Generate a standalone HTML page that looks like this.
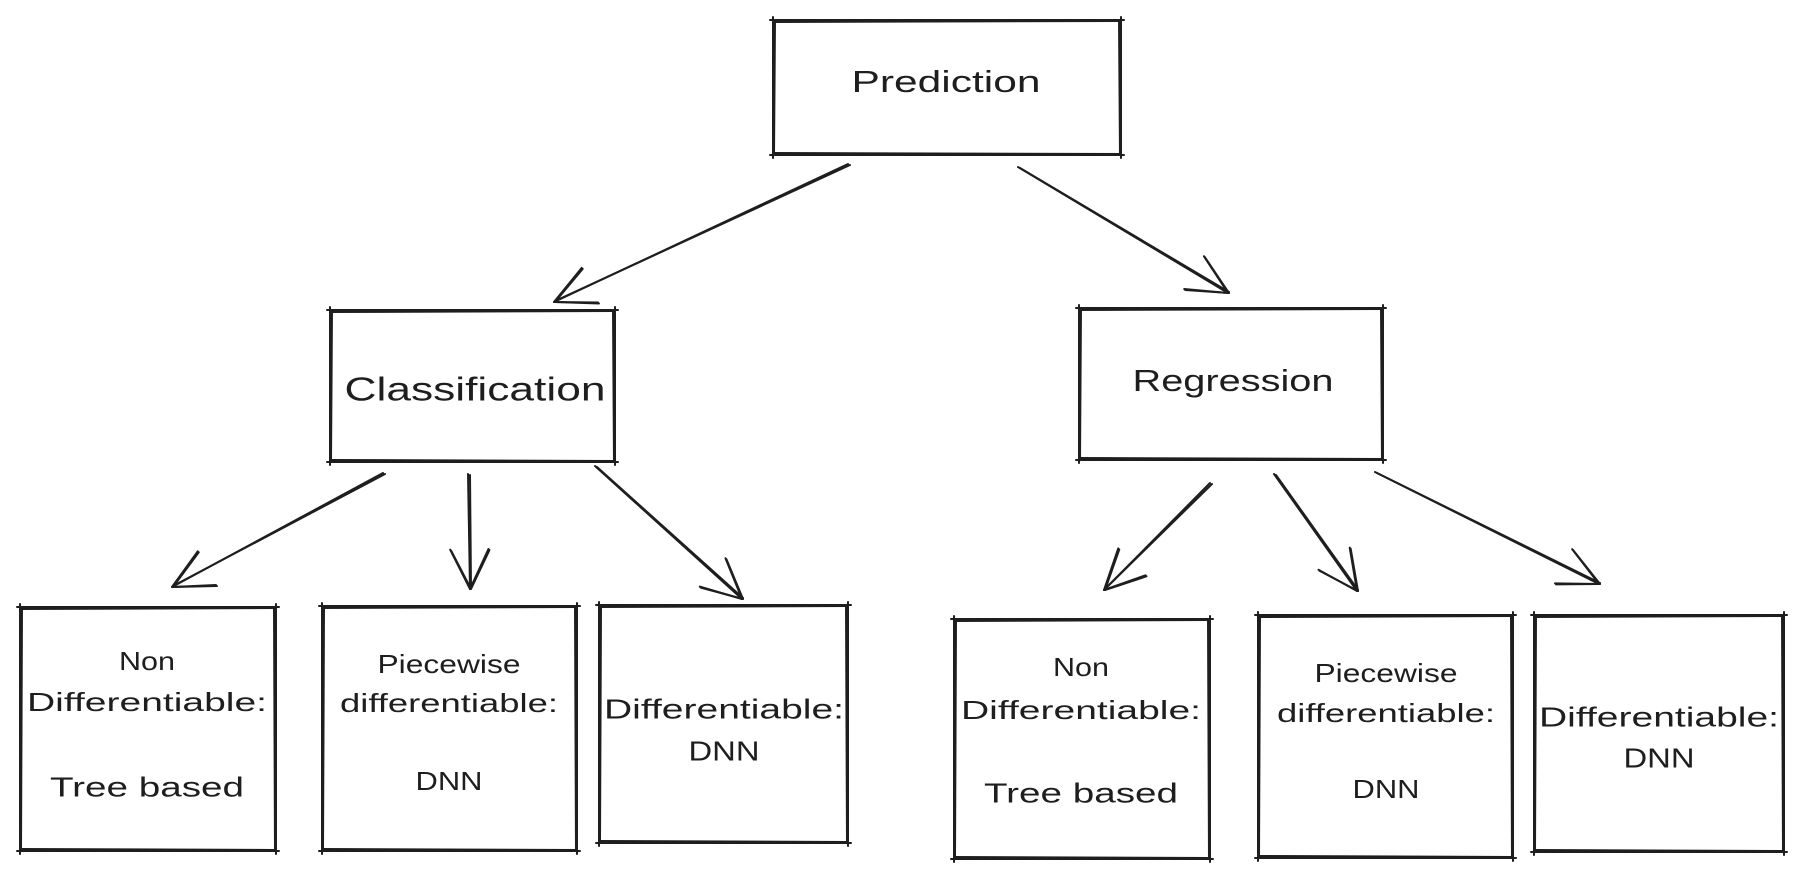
<!DOCTYPE html>
<html><head><meta charset="utf-8"><style>
html,body{margin:0;padding:0;background:#fff}
svg{display:block}
text{font-family:"Liberation Sans","DejaVu Sans",sans-serif;fill:#1e1e1e;text-anchor:middle;dominant-baseline:middle}
</style></head><body>
<svg id="s" width="1803" height="879" viewBox="0 0 1803 879" xmlns="http://www.w3.org/2000/svg">
<g id="g" stroke="#1e1e1e" stroke-width="2" fill="none" stroke-linecap="round"></g>
<text x="946" y="84" font-size="31" textLength="189" lengthAdjust="spacingAndGlyphs">Prediction</text>
<text x="475" y="392" font-size="33" textLength="261" lengthAdjust="spacingAndGlyphs">Classification</text>
<text x="1233" y="383" font-size="31" textLength="201" lengthAdjust="spacingAndGlyphs">Regression</text>

<text x="147" y="663" font-size="26" textLength="56" lengthAdjust="spacingAndGlyphs">Non</text>
<text x="147" y="704" font-size="26" textLength="240" lengthAdjust="spacingAndGlyphs">Differentiable:</text>
<text x="147" y="789" font-size="28" textLength="194" lengthAdjust="spacingAndGlyphs">Tree based</text>

<text x="449" y="666" font-size="26" textLength="143" lengthAdjust="spacingAndGlyphs">Piecewise</text>
<text x="449" y="705" font-size="26" textLength="218" lengthAdjust="spacingAndGlyphs">differentiable:</text>
<text x="449" y="783" font-size="26" textLength="67" lengthAdjust="spacingAndGlyphs">DNN</text>

<text x="724" y="711" font-size="28" textLength="240" lengthAdjust="spacingAndGlyphs">Differentiable:</text>
<text x="724" y="753" font-size="28" textLength="71" lengthAdjust="spacingAndGlyphs">DNN</text>

<text x="1081" y="669" font-size="26" textLength="56" lengthAdjust="spacingAndGlyphs">Non</text>
<text x="1081" y="712" font-size="26" textLength="240" lengthAdjust="spacingAndGlyphs">Differentiable:</text>
<text x="1081" y="795" font-size="28" textLength="194" lengthAdjust="spacingAndGlyphs">Tree based</text>

<text x="1386" y="675" font-size="26" textLength="143" lengthAdjust="spacingAndGlyphs">Piecewise</text>
<text x="1386" y="715" font-size="26" textLength="218" lengthAdjust="spacingAndGlyphs">differentiable:</text>
<text x="1386" y="791" font-size="26" textLength="67" lengthAdjust="spacingAndGlyphs">DNN</text>

<text x="1659" y="719" font-size="28" textLength="240" lengthAdjust="spacingAndGlyphs">Differentiable:</text>
<text x="1659" y="760" font-size="28" textLength="71" lengthAdjust="spacingAndGlyphs">DNN</text>
</svg>
<script>
var g=document.getElementById('g'),h='';
function L(a,b,c,d){h+='<line x1="'+a+'" y1="'+b+'" x2="'+c+'" y2="'+d+'"/>';}
function box(x1,y1,x2,y2){
 L(x1-3,y1,x2+3,y1);L(x1,y1+2,x2,y1+1);
 L(x1-3,y2,x2+3,y2);L(x1,y2-2,x2,y2-1);
 L(x1,y1-3,x1,y2+3);L(x1+2,y1,x1+1,y2);
 L(x2,y1-3,x2,y2+3);L(x2-2,y1,x2-1,y2);
}
function arr(a,b,c,d){
 L(a,b,c,d);L(a+2,b+1,c+1,d-1);
 var ang=Math.atan2(d-b,c-a),len=44,sp=0.45;
 for(var s=-1;s<=1;s+=2){var t=ang+Math.PI+s*sp;
  L(c,d,c+len*Math.cos(t),d+len*Math.sin(t));
  L(c+1,d,c+len*Math.cos(t)+1,d+len*Math.sin(t)+1);}
}
box(773,20,1121,155);
box(330,310,615,462);
box(1079,308,1383,460);
box(20,607,276,851);
box(322,606,577,851);
box(599,605,848,843);
box(954,619,1210,859);
box(1258,615,1513,858);
box(1534,615,1784,852);
arr(848,164,554,302);
arr(1018,167,1228,293);
arr(383,473,172,587);
arr(468,474,470,589);
arr(595,466,742,599);
arr(1210,483,1104,590);
arr(1274,474,1357,591);
arr(1375,472,1599,584);
g.innerHTML=h;
</script>
</body></html>
